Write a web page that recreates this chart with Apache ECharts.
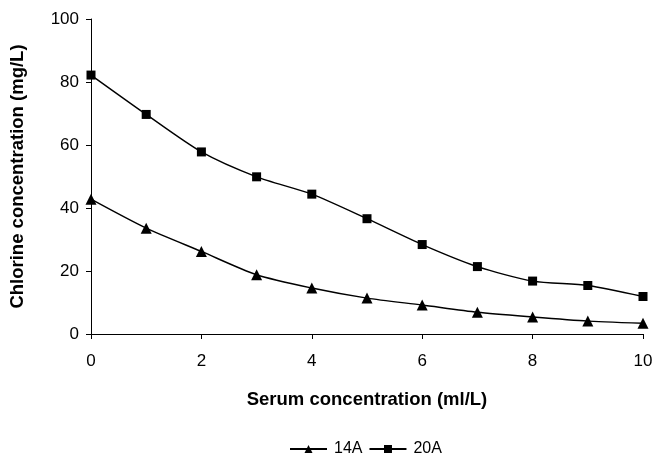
<!DOCTYPE html>
<html>
<head>
<meta charset="utf-8">
<script src="https://cdn.jsdelivr.net/npm/echarts@6/dist/echarts.min.js"></script>
<style>
  html, body { margin: 0; padding: 0; background: #fff; }
  #chart { width: 663px; height: 457px; }
</style>
</head>
<body>
<div id="chart"></div>
<script>
var serum = [0, 1, 2, 3, 4, 5, 6, 7, 8, 9, 10]
var chlorine14A = [42.8, 33.6, 26.2, 18.8, 14.6, 11.4, 9.2, 6.9, 5.4, 4.1, 3.4]
var chlorine20A = [82.2, 69.7, 57.8, 49.9, 44.4, 36.6, 28.4, 21.4, 16.8, 15.4, 11.9]

function pairs(ys){
  return serum.map(function(x, i){ return [x, ys[i]] })
}

var myChart = echarts.init(document.getElementById('chart'))
var font = 'Liberation Sans, Arial, sans-serif'
var option = {
  animation: false,
  textStyle: { fontFamily: font },
  grid: { left: 89, right: 20, top: 19, bottom: 123 },
  legend: {
    top: 436,
    left: 284,
    itemWidth: 37,
    itemHeight: 10,
    itemGap: 6,
    textStyle: { color: '#000', fontSize: 16, fontFamily: font, padding: [0, 0, 0, 2] },
    data: ['14A', '20A']
  },
  xAxis: {
    type: 'value',
    min: 0, max: 10, interval: 2,
    name: 'Serum concentration (ml/L)',
    nameLocation: 'middle',
    nameGap: 56,
    nameTextStyle: { color: '#000', fontSize: 18.5, fontWeight: 'bold', fontFamily: font },
    axisLine: { lineStyle: { color: '#000', width: 1 } },
    axisTick: { show: true, length: 5, lineStyle: { color: '#000' } },
    axisLabel: { color: '#000', fontSize: 17, margin: 19, fontFamily: font },
    splitLine: { show: false }
  },
  yAxis: {
    type: 'value',
    min: 0, max: 100, interval: 20,
    name: 'Chlorine concentration (mg/L)',
    nameLocation: 'middle',
    nameGap: 64,
    nameTextStyle: { color: '#000', fontSize: 18.5, fontWeight: 'bold', fontFamily: font },
    axisLine: { show: true, lineStyle: { color: '#000', width: 1 } },
    axisTick: { show: true, length: 5, lineStyle: { color: '#000' } },
    axisLabel: { color: '#000', fontSize: 17, margin: 12, fontFamily: font },
    splitLine: { show: false }
  },
  series: [
    {
      name: '14A',
      type: 'line',
      smooth: 0.25,
      symbol: 'triangle',
      symbolSize: 11,
      data: pairs(chlorine14A),
      itemStyle: { color: '#000' },
      lineStyle: { color: '#000', width: 1.4 }
    },
    {
      name: '20A',
      type: 'line',
      smooth: 0.25,
      symbol: 'rect',
      symbolSize: 9,
      data: pairs(chlorine20A),
      itemStyle: { color: '#000' },
      lineStyle: { color: '#000', width: 1.4 }
    }
  ]
}
myChart.setOption(option)
</script>
</body>
</html>
